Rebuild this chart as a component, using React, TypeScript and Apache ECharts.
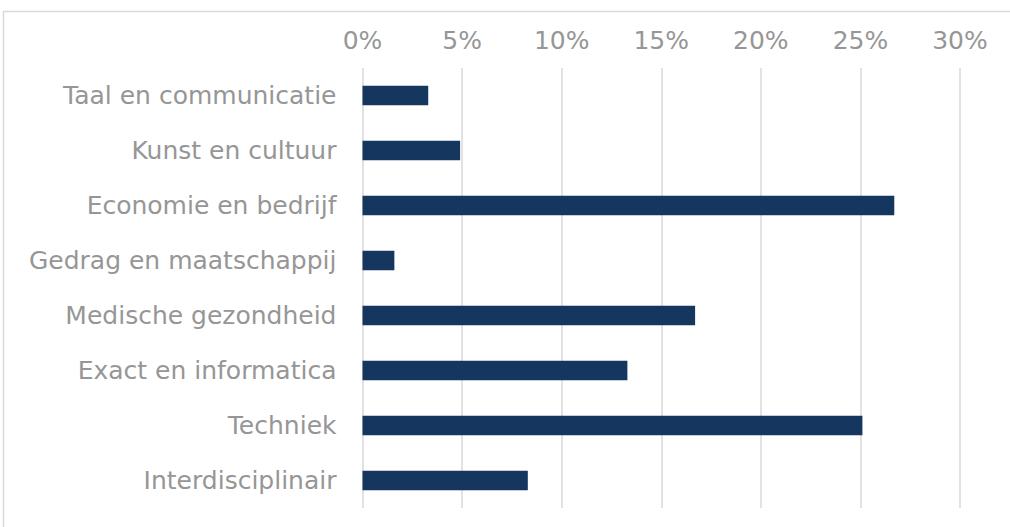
import React, { useEffect, useRef } from "react";
import * as echarts from "echarts";

const categories = [
  "Taal en communicatie",
  "Kunst en cultuur",
  "Economie en bedrijf",
  "Gedrag en maatschappij",
  "Medische gezondheid",
  "Exact en informatica",
  "Techniek",
  "Interdisciplinair",
];
const values = [3.3, 4.9, 26.7, 1.6, 16.7, 13.3, 25.1, 8.3];
const tickMin = 0;
const tickMax = 30;
const tickStep = 5;

export default function App() {
  const ref = useRef<HTMLDivElement>(null);
  useEffect(() => {
    if (!ref.current) return;
    const chart = echarts.init(ref.current, undefined, { renderer: "svg" });
    chart.setOption({
      animation: false,
      backgroundColor: "#ffffff",
      graphic: [
        {
          type: "rect",
          shape: { x: 3.5, y: 11.5, width: 1100, height: 700 },
          style: { fill: "none", stroke: "#d9d9d9", lineWidth: 1.5 },
          silent: true,
        },
      ],
      grid: { left: 362.5, right: 50, top: 68, height: 440, containLabel: false },
      xAxis: {
        type: "value",
        position: "top",
        min: tickMin,
        max: tickMax,
        interval: tickStep,
        axisLine: { show: false },
        axisTick: { show: false },
        axisLabel: {
          formatter: "{value}%",
          color: "#969696",
          fontFamily: "DejaVu Sans",
          fontSize: 25,
          margin: 15,
        },
        splitLine: { show: true, lineStyle: { color: "#d9d9d9", width: 1.5 } },
      },
      yAxis: {
        type: "category",
        inverse: true,
        data: categories,
        axisLine: { show: false },
        axisTick: { show: false },
        axisLabel: {
          color: "#969696",
          fontFamily: "DejaVu Sans",
          fontSize: 25,
          margin: 26,
        },
      },
      series: [
        {
          type: "bar",
          data: values,
          barWidth: 19.5,
          itemStyle: { color: "#14365f" },
        },
      ],
    });
    return () => chart.dispose();
  }, []);
  return (
    <div
      ref={ref}
      style={{ position: "fixed", left: 0, top: 0, width: 1010, height: 527 }}
    />
  );
}
